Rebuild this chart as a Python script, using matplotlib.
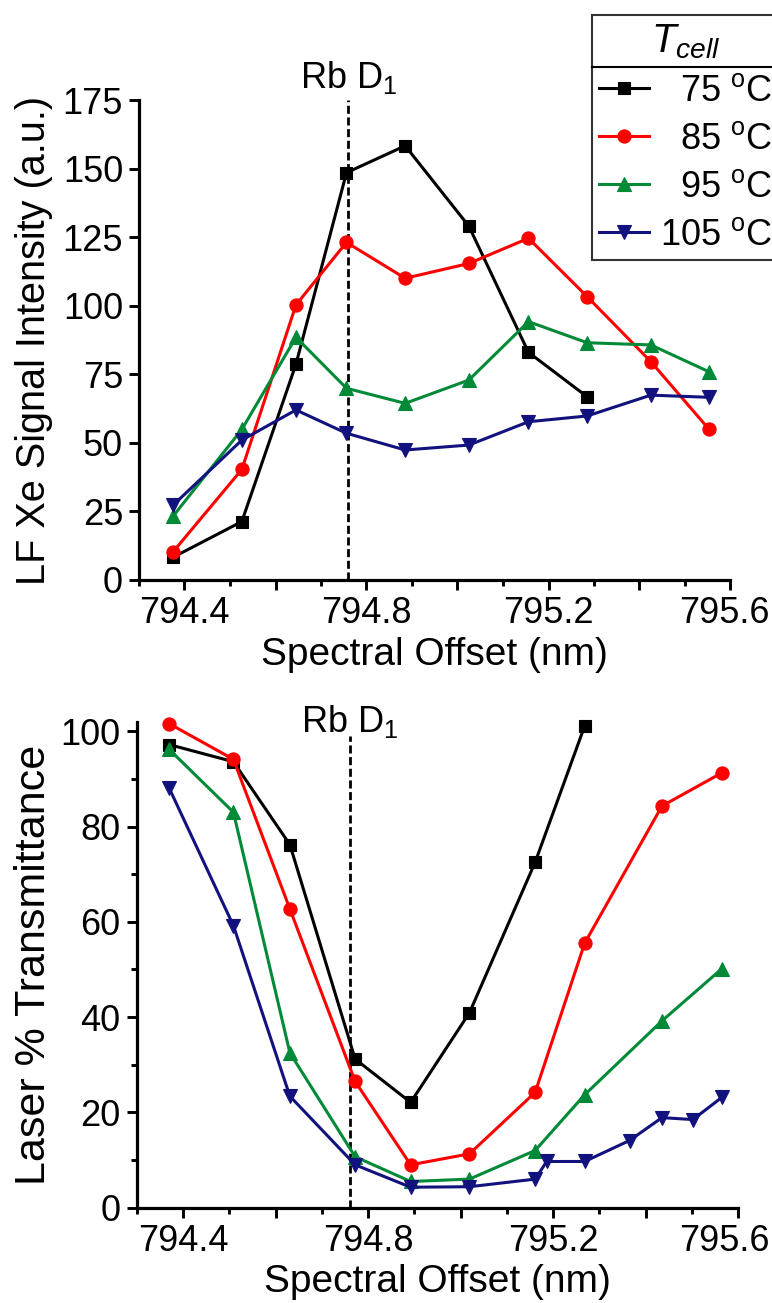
import matplotlib
matplotlib.use("Agg")
import matplotlib.pyplot as plt
from matplotlib.ticker import MultipleLocator, FixedLocator
from matplotlib.lines import Line2D
import matplotlib.transforms as mtransforms

plt.rcParams['font.family'] = ['Liberation Sans', 'DejaVu Sans']
plt.rcParams['mathtext.fontset'] = 'custom'
plt.rcParams['mathtext.rm'] = 'Liberation Sans'
plt.rcParams['mathtext.it'] = 'Liberation Sans:italic'
plt.rcParams['mathtext.bf'] = 'Liberation Sans:bold'

# ---- data -------------------------------------------------------------
rb_d1 = 794.76

temps = ["75", "85", "95", "105"]

# LF Xe signal intensity vs. laser centre wavelength
sig_wl = [794.375, 794.526, 794.645, 794.756, 794.885, 795.025,
          795.156, 795.285, 795.425, 795.553]
sig_75 = [8.3, 21.3, 78.7, 148.5, 158.3, 129.0, 83.0, 66.8]
sig_85 = [10.3, 40.3, 100.3, 123.1, 110.0, 115.4, 124.6, 103.3, 79.6, 54.9]
sig_95 = [23.3, 54.9, 88.5, 69.9, 64.4, 72.9, 94.2, 86.5, 85.7, 75.9]
sig_105 = [27.3, 51.0, 62.0, 53.5, 47.4, 49.2, 57.7, 59.8, 67.4, 66.6]

# Laser transmittance vs. laser centre wavelength
tr_wl = [794.370, 794.509, 794.631, 794.772, 794.892, 795.019,
         795.161, 795.268, 795.435, 795.565]
tr_wl_105 = [794.370, 794.509, 794.631, 794.772, 794.892, 795.019,
             795.161, 795.186, 795.268, 795.365, 795.435, 795.502, 795.565]
tr_75 = [97.2, 93.6, 76.2, 31.2, 22.1, 40.9, 72.5, 101.1]
tr_85 = [101.6, 94.1, 62.7, 26.5, 9.0, 11.3, 24.2, 55.5, 84.3, 91.3]
tr_95 = [96.2, 83.0, 32.5, 10.7, 5.5, 6.0, 12.0, 23.7, 39.2, 50.2]
tr_105 = [88.1, 59.2, 23.4, 9.0, 4.3, 4.4, 6.0, 9.7, 9.7, 14.1, 18.9, 18.5, 23.2]

x_major = [794.4, 794.6, 794.8, 795.0, 795.2, 795.4, 795.6]
x_minor = [794.3, 794.5, 794.7, 794.9, 795.1, 795.3, 795.5]
x_ticklabels = ['794.4', '', '794.8', '', '795.2', '', '795.6']

# ---- styles -----------------------------------------------------------
colors = ['#000000', '#FF0000', '#008A38', '#12127F']
markers = ['s', 'o', '^', 'v']
msizes = [8.5, 9.5, 10.5, 10.5]
LW = 2.2
FS = 26      # tick labels / annotations
FS_AX = 28   # axis titles

W, H = 772, 1303
fig = plt.figure(figsize=(W / 100, H / 100), dpi=100)

ax1 = fig.add_axes([139 / W, 1 - 580 / H, 591.5 / W, 480 / H])
ax2 = fig.add_axes([136.7 / W, 1 - 1207.7 / H, 601.6 / W, 486 / H])


def style_axes(ax):
    for side in ['top', 'right']:
        ax.spines[side].set_visible(False)
    for side in ['left', 'bottom']:
        ax.spines[side].set_linewidth(2.3)
    ax.set_xlim(794.3, 795.6)
    ax.xaxis.set_major_locator(FixedLocator(x_major))
    ax.xaxis.set_minor_locator(FixedLocator(x_minor))
    ax.set_xticklabels(x_ticklabels)
    ax.tick_params(axis='both', which='major', direction='out', length=7.5,
                   width=2.1, labelsize=FS, pad=4)
    ax.tick_params(axis='both', which='minor', direction='out', length=4,
                   width=2.1)
    ax.set_xlabel('Spectral Offset (nm)', fontsize=FS_AX, labelpad=4)


def draw_series(ax, xs_list, ys_list):
    handles = []
    for xs, ys, c, m, ms in zip(xs_list, ys_list, colors, markers, msizes):
        h, = ax.plot(xs[:len(ys)], ys, color=c, marker=m, markersize=ms,
                     linewidth=LW, markeredgewidth=0.8, clip_on=False, zorder=3)
        handles.append(h)
    return handles


# ---- top panel --------------------------------------------------------
style_axes(ax1)
ax1.set_ylim(0, 175)
ax1.yaxis.set_major_locator(MultipleLocator(25))
ax1.set_ylabel('LF Xe Signal Intensity (a.u.)', fontsize=28.5, labelpad=7)
handles = draw_series(ax1, [sig_wl] * 4, [sig_75, sig_85, sig_95, sig_105])
ax1.axvline(rb_d1, color='black', lw=2.0, ls=(0, (2.9, 1.3)), zorder=2)
ax1.text(rb_d1, 1.025, r'Rb D$_1$', transform=ax1.get_xaxis_transform(),
         ha='center', va='baseline', fontsize=FS)

# ---- bottom panel -----------------------------------------------------
style_axes(ax2)
ax2.set_ylim(0, 102)
ax2.yaxis.set_major_locator(MultipleLocator(20))
ax2.yaxis.set_minor_locator(MultipleLocator(10))
ax2.set_ylabel('Laser % Transmittance', fontsize=31, labelpad=5)
draw_series(ax2, [tr_wl, tr_wl, tr_wl, tr_wl_105], [tr_75, tr_85, tr_95, tr_105])
ax2.axvline(rb_d1, ymin=0, ymax=99 / 102, color='black', lw=2.0,
            ls=(0, (2.9, 1.3)), zorder=2)
ax2.text(rb_d1, 0.979, r'Rb D$_1$', transform=ax2.get_xaxis_transform(),
         ha='center', va='baseline', fontsize=FS)

# ---- legend -----------------------------------------------------------
labels = ['  %s $^{\\rm o}$C' % t if len(t) == 2 else '%s $^{\\rm o}$C' % t
          for t in temps]
leg = fig.legend(handles, labels, loc='upper left',
                 bbox_to_anchor=(591.7 / W, 1 - 15 / H), bbox_transform=fig.transFigure,
                 fontsize=FS, title=r'$T_{cell}$', title_fontsize=29,
                 frameon=True, fancybox=False, edgecolor='black',
                 borderpad=0.2, labelspacing=0.36, handlelength=1.4,
                 handletextpad=0.28, borderaxespad=0)
leg.get_frame().set_linewidth(1.5)
leg.get_frame().set_facecolor('white')

fig.canvas.draw()
renderer = fig.canvas.get_renderer()

# separator line under the legend title
tb = leg.get_title().get_window_extent(renderer)
fb = leg.get_frame().get_window_extent(renderer)
first = leg.get_texts()[0].get_window_extent(renderer)
ysep = 0.5 * (tb.y0 + first.y1)
inv = fig.transFigure.inverted()
(x0f, ysf) = inv.transform((fb.x0, ysep))
(x1f, _) = inv.transform((fb.x1, ysep))
fig.add_artist(Line2D([x0f, x1f], [ysf, ysf], color='black', lw=1.5,
                      transform=fig.transFigure, zorder=10))

# keep the last x tick label inside the figure edge
for ax in (ax1, ax2):
    lab = ax.xaxis.get_major_ticks()[-1].label1
    bb = lab.get_window_extent(renderer)
    over = bb.x1 - (W - 2)
    if over > 0:
        lab.set_transform(lab.get_transform() +
                          mtransforms.ScaledTranslation(-over / 100, 0,
                                                        fig.dpi_scale_trans))

fig.savefig('out.png', dpi=100)
